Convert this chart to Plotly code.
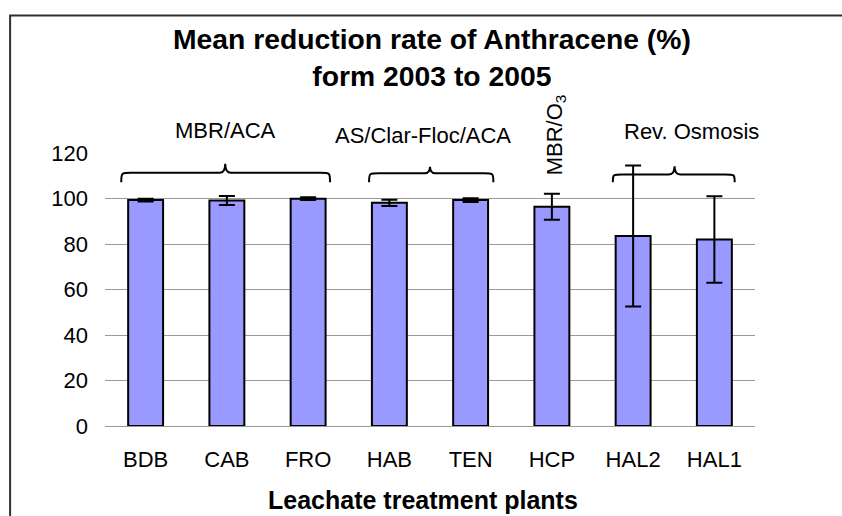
import plotly.graph_objects as go

plants = ["BDB", "CAB", "FRO", "HAB", "TEN", "HCP", "HAL2", "HAL1"]
mean_reduction = [99.3, 99.1, 99.9, 98.1, 99.3, 96.4, 83.5, 82.0]
error_sd = [0.6, 2.0, 0.6, 1.4, 0.8, 5.7, 31.0, 19.0]
y_ticks = [0, 20, 40, 60, 80, 100, 120]

positions = list(range(len(plants)))

FONT = "Liberation Sans, Arial, sans-serif"

fig = go.Figure()
fig.add_trace(go.Bar(
    x=positions, y=mean_reduction, width=0.43,
    marker=dict(color="#9999FF", line=dict(color="black", width=2)),
    error_y=dict(type="data", array=error_sd, visible=True,
                 color="black", thickness=2, width=8),
    showlegend=False,
))

def brace(x0, x1, xm, y_end, y_h, y_tip, dx=0.12, dt=0.07):
    return (f"M {x0},{y_end} C {x0},{y_h} {x0},{y_h} {x0+dx},{y_h} "
            f"L {xm-dt},{y_h} Q {xm},{y_h} {xm},{y_tip} "
            f"Q {xm},{y_h} {xm+dt},{y_h} "
            f"L {x1-dx},{y_h} C {x1},{y_h} {x1},{y_h} {x1},{y_end}")

shapes = [
    dict(type="path", xref="x", yref="y",
         path=brace(-0.30, 2.27, 0.98, 107.1, 111.3, 115.3),
         line=dict(color="black", width=2)),
    dict(type="path", xref="x", yref="y",
         path=brace(2.75, 4.28, 3.5, 107.1, 111.1, 114.0),
         line=dict(color="black", width=2)),
    dict(type="path", xref="x", yref="y",
         path=brace(5.75, 7.25, 6.51, 107.1, 110.6, 114.2),
         line=dict(color="black", width=2)),
    # outer chart frame
    dict(type="rect", xref="paper", yref="paper",
         x0=-0.146, x1=1.3, y0=-0.5, y1=1.504,
         line=dict(color="#303030", width=2), layer="above"),
]

def ypx(p):
    return (425.7 - p) / 273.0

def xpx(p):
    return (p - 105) / 650.0

annotations = [
    dict(text="<b>Mean reduction rate of Anthracene (%)<br>form 2003 to 2005</b>",
         xref="paper", yref="paper", x=xpx(432), y=ypx(57),
         xanchor="center", yanchor="middle", showarrow=False,
         font=dict(family=FONT, size=28.3, color="black")),
    dict(text="<b>Leachate treatment plants</b>",
         xref="paper", yref="paper", x=xpx(423), y=ypx(500),
         xanchor="center", yanchor="middle", showarrow=False,
         font=dict(family=FONT, size=25, color="black")),
    dict(text="MBR/ACA", xref="paper", yref="paper", x=xpx(225), y=ypx(130),
         xanchor="center", yanchor="middle", showarrow=False,
         font=dict(family=FONT, size=22, color="black")),
    dict(text="AS/Clar-Floc/ACA", xref="paper", yref="paper", x=xpx(423), y=ypx(135),
         xanchor="center", yanchor="middle", showarrow=False,
         font=dict(family=FONT, size=22, color="black")),
    dict(text="Rev. Osmosis", xref="paper", yref="paper", x=xpx(691), y=ypx(131),
         xanchor="center", yanchor="middle", showarrow=False,
         font=dict(family=FONT, size=22, color="black")),
    dict(text="MBR/O<sub>3</sub>", xref="paper", yref="paper", x=xpx(556), y=ypx(135),
         xanchor="center", yanchor="middle", showarrow=False, textangle=-90,
         font=dict(family=FONT, size=22, color="black")),
]

fig.update_layout(
    width=842, height=516,
    margin=dict(l=105, r=87, t=153, b=90),
    paper_bgcolor="white", plot_bgcolor="white",
    font=dict(family=FONT, size=22, color="black"),
    shapes=shapes, annotations=annotations,
    bargap=0.57,
)
fig.update_xaxes(
    tickmode="array", tickvals=positions, ticktext=plants,
    range=[-0.5, len(plants) - 0.5], showgrid=False, zeroline=False,
    showline=False, ticks="", ticklabelstandoff=18,
    tickfont=dict(family=FONT, size=22, color="black"),
)
fig.update_yaxes(
    range=[0, 120], tickmode="array", tickvals=y_ticks,
    showgrid=True, gridcolor="#9a9a9a", gridwidth=1,
    zeroline=True, zerolinecolor="#9a9a9a", zerolinewidth=1,
    showline=False, ticks="", ticklabelstandoff=16,
    tickfont=dict(family=FONT, size=22, color="black"),
)

fig.write_html(
    "out.html",
    config={"displayModeBar": False},
    post_script="document.body.style.margin='0';document.body.style.padding='0';",
)
